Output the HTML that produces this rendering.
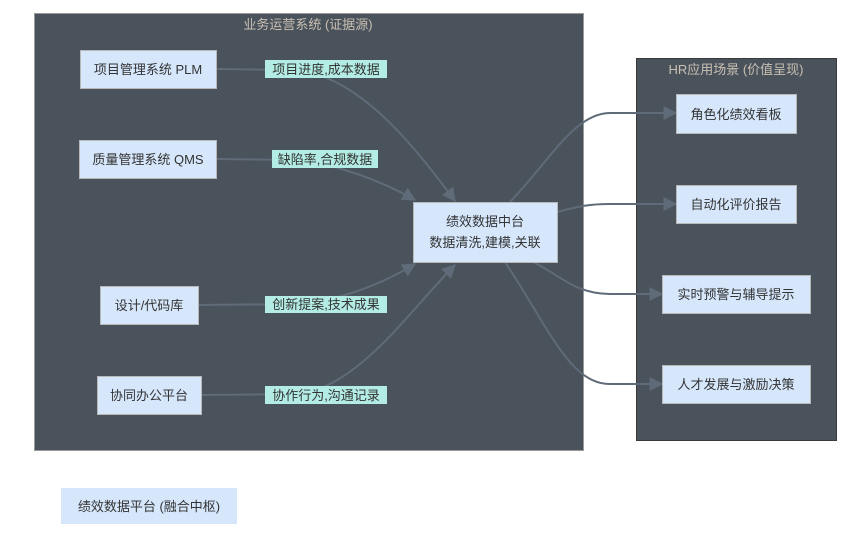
<!DOCTYPE html>
<html><head><meta charset="utf-8"><style>
html,body{margin:0;padding:0;background:#fff;width:863px;height:545px;overflow:hidden}
text{font-family:"Liberation Sans","Noto Sans CJK SC",sans-serif;font-size:13px}
</style></head><body>
<svg width="863" height="545" viewBox="0 0 863 545" xmlns="http://www.w3.org/2000/svg">
<defs><marker id="a" viewBox="0 0 10 10" refX="9" refY="5" markerWidth="7" markerHeight="7" orient="auto"><path d="M0,0L10,5L0,10z" fill="#5f6b78"/></marker></defs>
<rect x="34.5" y="13.5" width="549" height="437" fill="#4a525b" stroke="#9a9a9a"/>
<text x="308" y="29" text-anchor="middle" fill="#c9c0b3">业务运营系统 (证据源)</text>
<rect x="636.5" y="58.5" width="200" height="382" fill="#4a525b" stroke="#3a3a3a"/>
<text x="736" y="74" text-anchor="middle" fill="#c9c0b3">HR应用场景 (价值呈现)</text>
<g fill="none" stroke="#5f6b78" stroke-width="2">
<path d="M216,69 L300,70 C360,80 410,140 455,201" marker-end="url(#a)"/>
<path d="M216,159 L300,160 C340,166 380,180 415,200" marker-end="url(#a)"/>
<path d="M197,305 L300,304 C340,300 380,285 415,264" marker-end="url(#a)"/>
<path d="M199,395 L300,394 C360,385 410,310 455,265" marker-end="url(#a)"/>
<path d="M510,202 C550,160 575,113 610,113 L676,113" marker-end="url(#a)"/>
<path d="M557,212 C580,206 590,204 610,204 L676,204" marker-end="url(#a)"/>
<path d="M533,262 C560,275 575,294 610,294 L662,294" marker-end="url(#a)"/>
<path d="M505,262 C550,330 570,384 610,384 L662,384" marker-end="url(#a)"/>
</g>
<g fill="#b3ece4"><rect x="265" y="60" width="122" height="18"/><rect x="272" y="150" width="106" height="18"/><rect x="265" y="296" width="122" height="17"/><rect x="265" y="386" width="122" height="18"/></g>
<g fill="#333" text-anchor="middle">
<text x="326" y="74">项目进度,成本数据</text>
<text x="325" y="164">缺陷率,合规数据</text>
<text x="326" y="309">创新提案,技术成果</text>
<text x="326" y="400">协作行为,沟通记录</text>
</g>
<g fill="#d6e7fc" stroke="#b8b8b8">
<rect x="80.5" y="50.5" width="136" height="38"/>
<rect x="79.5" y="140.5" width="137" height="38"/>
<rect x="100.5" y="286.5" width="98" height="38"/>
<rect x="97.5" y="376.5" width="104" height="38"/>
<rect x="413.5" y="202.5" width="144" height="60"/>
<rect x="676.5" y="94.5" width="120" height="39"/>
<rect x="676.5" y="185.5" width="120" height="38"/>
<rect x="662.5" y="275.5" width="148" height="38"/>
<rect x="662.5" y="365.5" width="148" height="38"/>
</g>
<rect x="61" y="488" width="176" height="36" fill="#d6e7fc"/>
<g fill="#333" text-anchor="middle">
<text x="148" y="74">项目管理系统 PLM</text>
<text x="148" y="164">质量管理系统 QMS</text>
<text x="149" y="310">设计/代码库</text>
<text x="149" y="400">协同办公平台</text>
<text x="485" y="226">绩效数据中台</text>
<text x="485" y="247">数据清洗,建模,关联</text>
<text x="736" y="119">角色化绩效看板</text>
<text x="736" y="209">自动化评价报告</text>
<text x="736" y="299">实时预警与辅导提示</text>
<text x="736" y="389">人才发展与激励决策</text>
<text x="149" y="511">绩效数据平台 (融合中枢)</text>
</g>
</svg>
</body></html>
